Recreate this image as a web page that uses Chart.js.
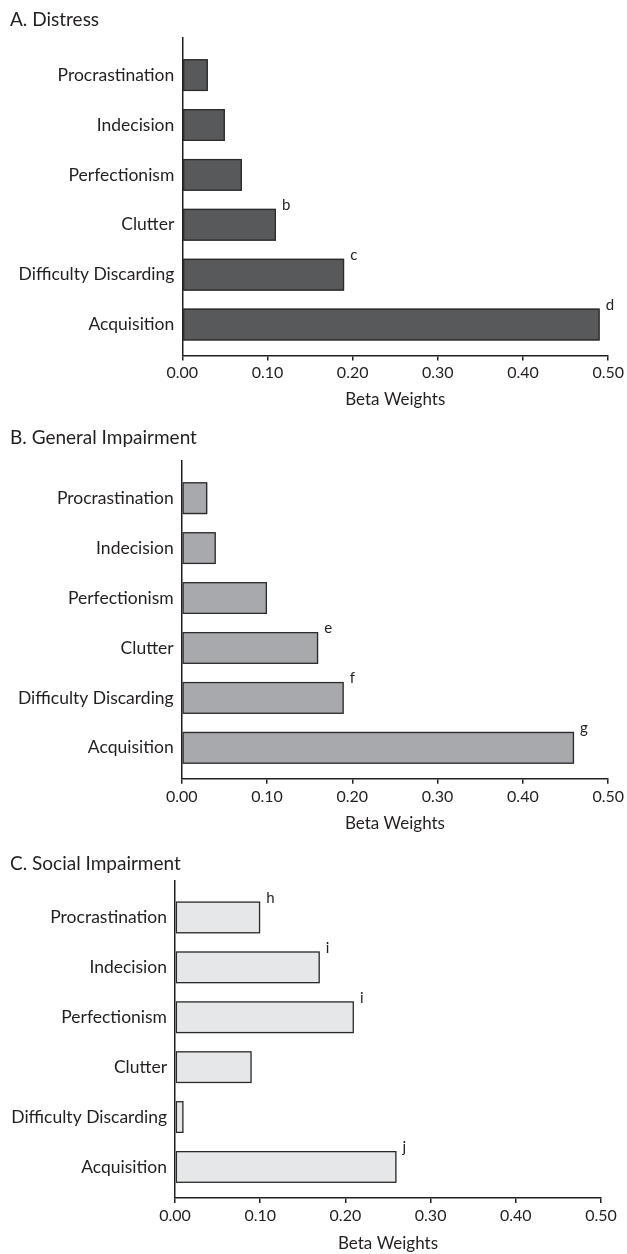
<!DOCTYPE html>
<html>
<head>
<meta charset="utf-8">
<script src="https://cdn.jsdelivr.net/npm/chart.js@4.4.1/dist/chart.umd.min.js"></script>
<style>
  html, body { margin: 0; padding: 0; background: #ffffff; }
  body { width: 627px; height: 1254px; position: relative; overflow: hidden; }
  canvas { position: absolute; left: 0; }
</style>
</head>
<body>
<canvas id="chartA" width="627" height="415" style="top:0px"></canvas>
<canvas id="chartB" width="627" height="419" style="top:415px"></canvas>
<canvas id="chartC" width="627" height="420" style="top:834px"></canvas>
<script>
// ---- data ----
const categories = ['Procrastination', 'Indecision', 'Perfectionism', 'Clutter', 'Difficulty Discarding', 'Acquisition'];
const distressValues = [0.03, 0.05, 0.07, 0.11, 0.19, 0.49];
const generalValues  = [0.03, 0.04, 0.10, 0.16, 0.19, 0.46];
const socialValues   = [0.10, 0.17, 0.21, 0.09, 0.01, 0.26];
const distressLetters = ['', '', '', 'b', 'c', 'd'];
const generalLetters  = ['', '', '', 'e', 'f', 'g'];
const socialLetters   = ['h', 'i', 'i', '', '', 'j'];
const xTicks = [0, 0.1, 0.2, 0.3, 0.4, 0.5];
const panelTitles = ['A. Distress', 'B. General Impairment', 'C. Social Impairment'];
const axisTitle = 'Beta Weights';

const FONT = 'Lato, "Open Sans", sans-serif';
const INK = '#231f20';
const BAR_EDGE = '#2b2b2b';
const EDGE_W = 1.3;

const letterPlugin = {
  id: 'letters',
  afterDatasetsDraw(chart) {
    const letters = chart.options.plugins.letters.values;
    const meta = chart.getDatasetMeta(0);
    const ctx = chart.ctx;
    ctx.save();
    // bar outlines, from the elements' own geometry
    ctx.strokeStyle = BAR_EDGE;
    ctx.lineWidth = EDGE_W;
    meta.data.forEach((el) => {
      const l = Math.min(el.x, el.base), r = Math.max(el.x, el.base);
      const t = el.y - el.height / 2;
      ctx.strokeRect(l + EDGE_W / 2, t + EDGE_W / 2, r - l - EDGE_W, el.height - EDGE_W);
    });
    // significance letters
    ctx.font = '15px ' + FONT;
    ctx.fillStyle = INK;
    ctx.textAlign = 'left';
    ctx.textBaseline = 'middle';
    meta.data.forEach((el, i) => {
      if (!letters[i]) return;
      const right = Math.max(el.x, el.base);
      ctx.fillText(letters[i], right + 6, el.y - el.height / 2 - 3.5);
    });
    ctx.restore();
  }
};

function makeChart(id, values, letters, title, fill, cfg) {
  new Chart(document.getElementById(id), {
    type: 'bar',
    data: {
      datasets: [{
        data: values.map((v, i) => ({ x: v, y: i })),
        backgroundColor: fill,
        borderWidth: 0,
        barPercentage: 0.8,
        categoryPercentage: 0.8
      }]
    },
    plugins: [letterPlugin],
    options: {
      indexAxis: 'y',
      responsive: false,
      animation: false,
      devicePixelRatio: 1,
      layout: { padding: { left: 10, right: cfg.right, top: 0, bottom: cfg.bottom } },
      plugins: {
        legend: { display: false },
        tooltip: { enabled: false },
        letters: { values: letters },
        title: {
          display: true,
          text: title,
          align: 'start',
          color: INK,
          font: { family: FONT, size: 19, weight: 'normal' },
          padding: { top: cfg.tTop, bottom: cfg.tBottom }
        }
      },
      scales: {
        x: {
          type: 'linear',
          min: 0,
          max: 0.5,
          offset: false,
          afterBuildTicks: (s) => { s.ticks = xTicks.map(v => ({ value: v })); },
          ticks: {
            color: INK,
            font: { family: FONT, size: 16 },
            padding: 3,
            maxRotation: 0,
            callback: (v) => Number(v).toFixed(2)
          },
          grid: { display: true, drawOnChartArea: false, drawTicks: true, tickLength: 5, color: INK, lineWidth: 1.5 },
          border: { display: true, color: INK, width: 1.5 },
          title: {
            display: true,
            text: axisTitle,
            color: INK,
            font: { family: FONT, size: 17 },
            padding: { top: cfg.xtTop, bottom: 0 }
          }
        },
        y: {
          type: 'linear',
          reverse: true,
          offset: false,
          min: -0.74,
          max: 5.62,
          afterBuildTicks: (s) => { s.ticks = categories.map((c, i) => ({ value: i })); },
          afterFit: (s) => { s.width = cfg.axisX - 10; },
          ticks: {
            color: INK,
            font: { family: FONT, size: 17.5 },
            padding: 8,
            callback: (v) => categories[v]
          },
          grid: { display: true, drawOnChartArea: false, drawTicks: false },
          border: { display: true, color: INK, width: 1.5 }
        }
      }
    }
  });
}

makeChart('chartA', distressValues, distressLetters, panelTitles[0], '#58595b',
  { axisX: 182.3, right: 18, bottom: 4.9, tTop: 8, tBottom: 7.4, xtTop: 4 });
makeChart('chartB', generalValues, generalLetters, panelTitles[1], '#a7a9ac',
  { axisX: 181.7, right: 18.7, bottom: 0.6, tTop: 11.5, tBottom: 11.9, xtTop: 4 });
makeChart('chartC', socialValues, socialLetters, panelTitles[2], '#e6e7e8',
  { axisX: 175, right: 26, bottom: 0, tTop: 18.2, tBottom: 5.5, xtTop: 5.5 });
</script>
</body>
</html>
